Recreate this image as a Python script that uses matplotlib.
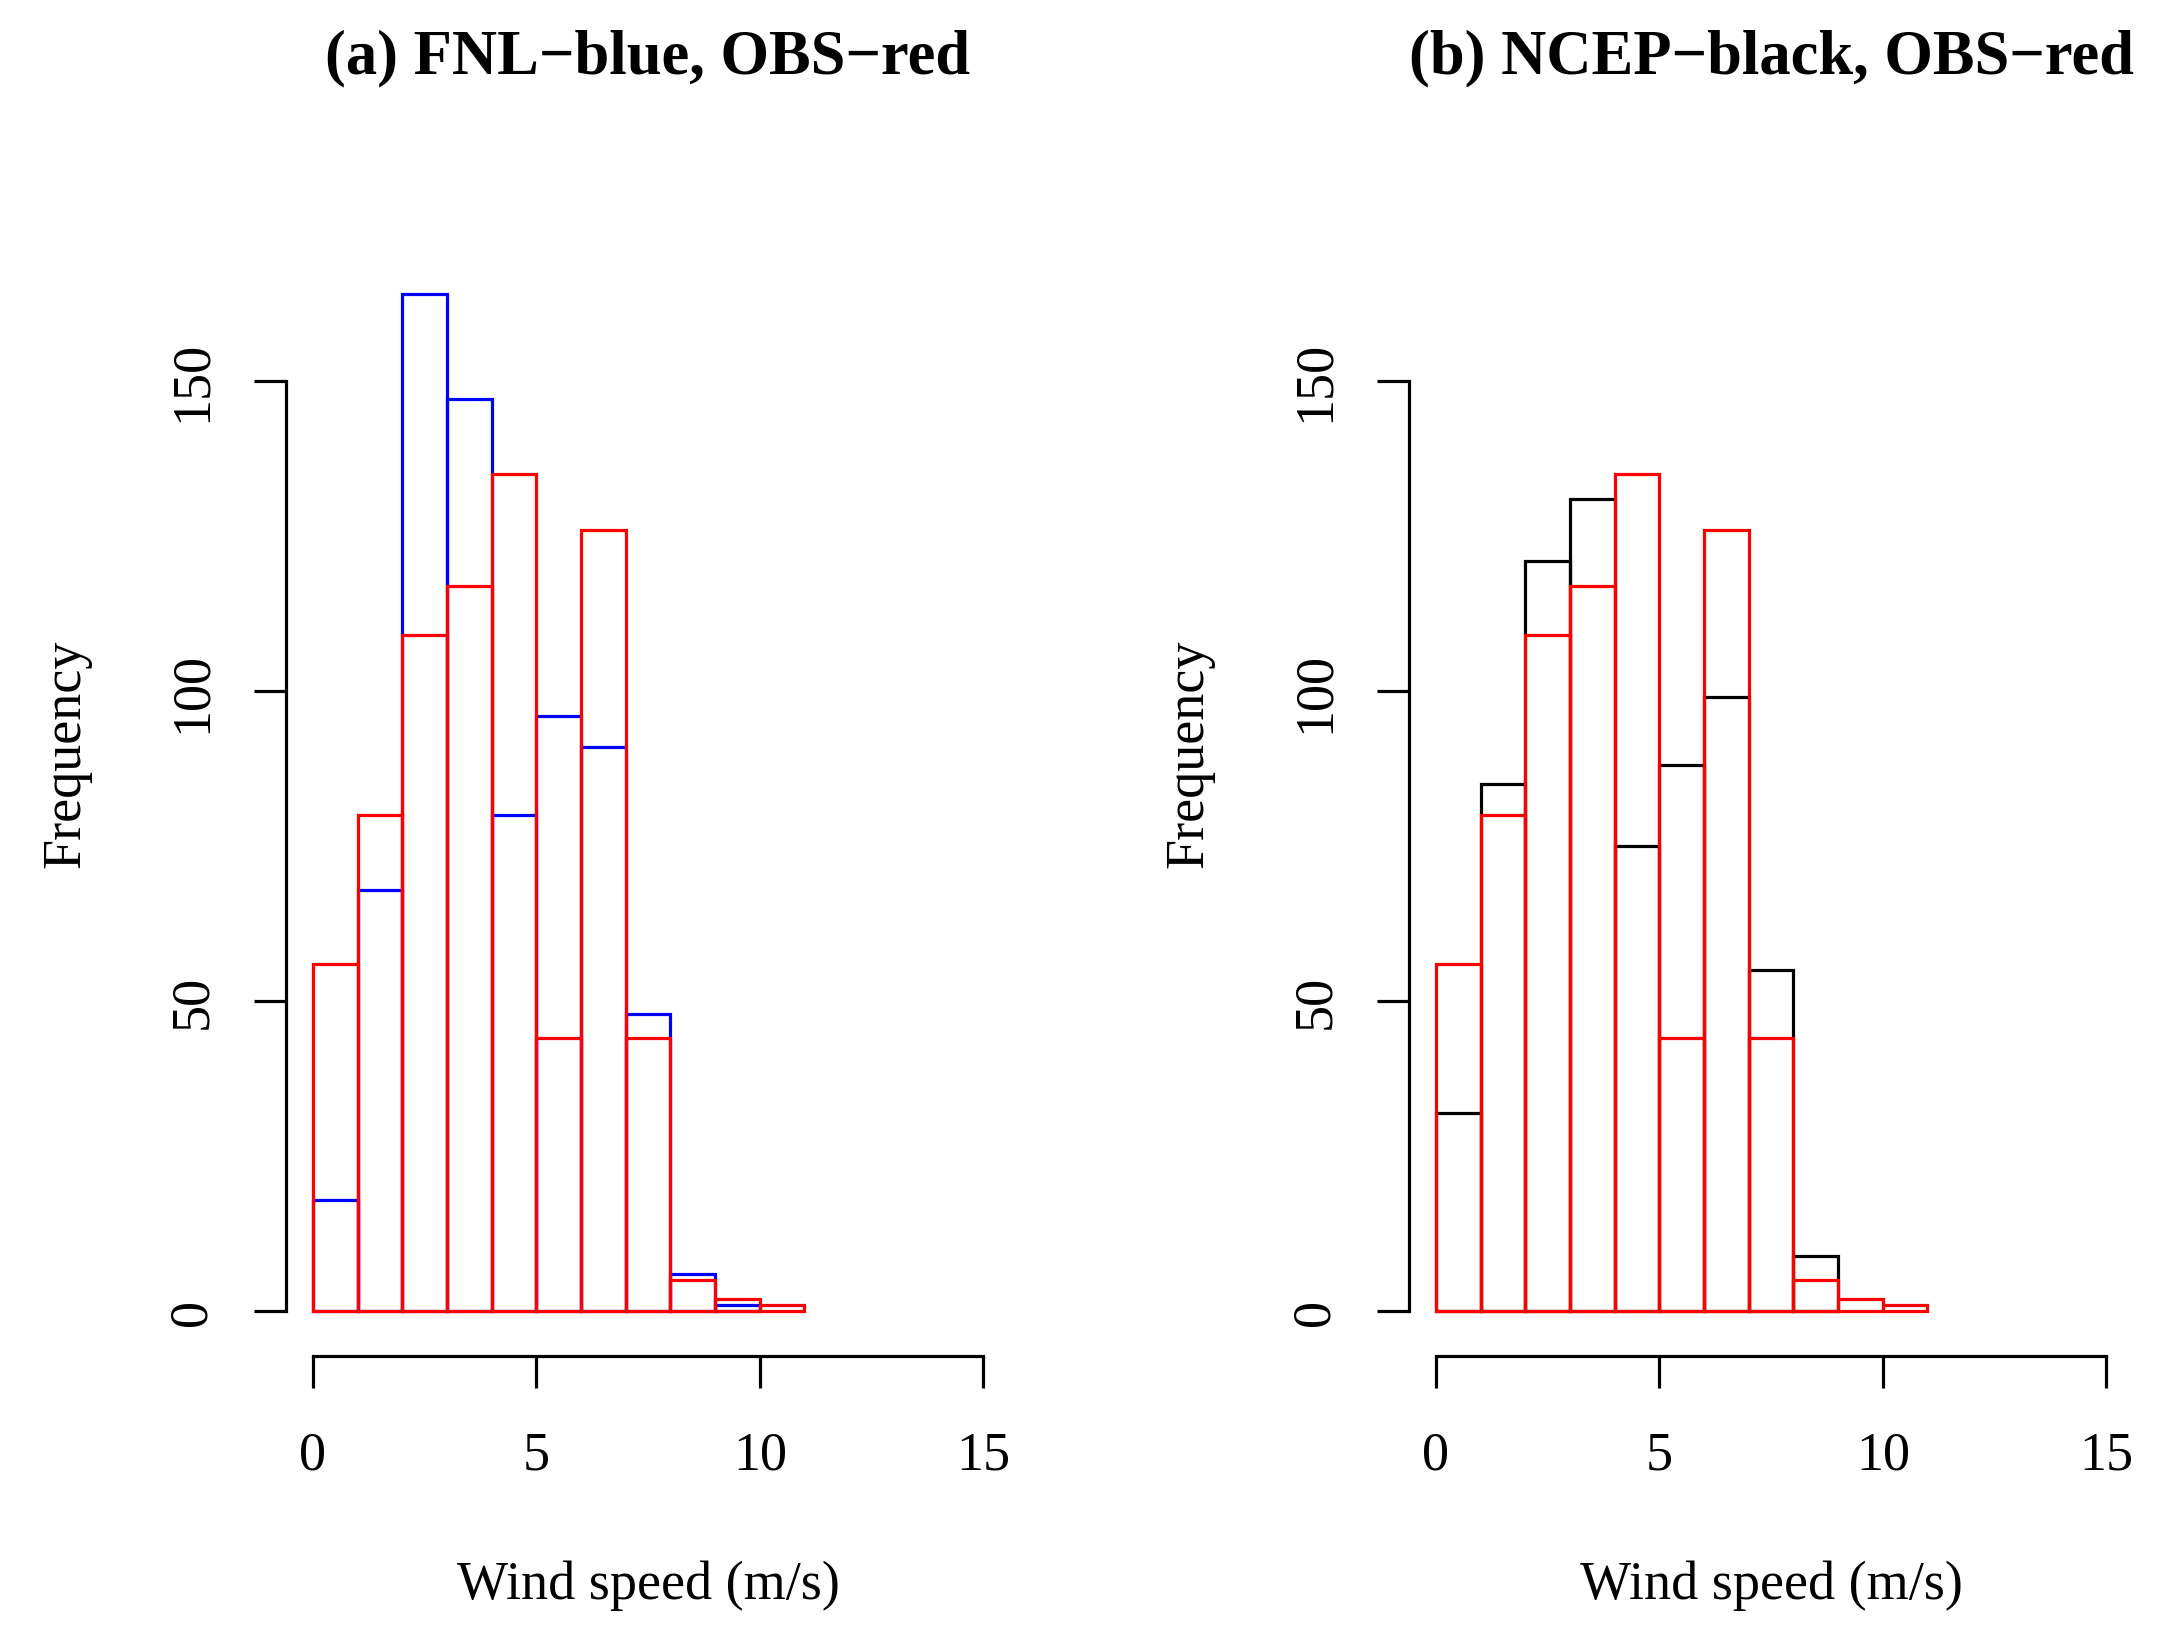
# -*- coding: utf-8 -*-
# Wind speed histograms: FNL / NCEP vs OBS (R-style base graphics look)
import matplotlib
matplotlib.use('Agg')
import matplotlib.pyplot as plt
import numpy

plt.rcParams['font.family'] = ['Liberation Serif', 'DejaVu Serif']

## counts per 1 m/s bin
breaks_obs  = numpy.arange(0, 12)   # 0..11
breaks_fnl  = numpy.arange(0, 11)   # 0..10
breaks_ncep = numpy.arange(0, 10)   # 0..9

obs_counts  = [56, 80, 109, 117, 135, 44, 126, 44, 5, 2, 1]
fnl_counts  = [18, 68, 164, 147, 80, 96, 91, 48, 6, 1]
ncep_counts = [32, 85, 121, 131, 75, 88, 99, 55, 9]

panels = [
    ('(a) FNL\u2212blue, OBS\u2212red', fnl_counts, breaks_fnl, '#0000ff'),
    ('(b) NCEP\u2212black, OBS\u2212red', ncep_counts, breaks_ncep, '#000000'),
]

xticks = [0, 5, 10, 15]
yticks = [0, 50, 100, 150]

fig = plt.figure(figsize=(21.64, 16.33), dpi=100)

lefts = [286 / 2164, 1409 / 2164]
for (title, counts, breaks, colour), left in zip(panels, lefts):
    axis = fig.add_axes([left, 0.169, 0.3346, 0.7385])

    ## model first, obs on top
    axis.bar(breaks[:-1], counts, width=numpy.diff(breaks), align='edge',
             fill=False, edgecolor=colour, linewidth=2.3)
    axis.bar(breaks_obs[:-1], obs_counts, width=numpy.diff(breaks_obs), align='edge',
             fill=False, edgecolor='#ff0000', linewidth=2.3)

    axis.set_xlim(-0.6, 15.6)
    axis.set_ylim(-7.2, 187.2)

    for side in ['top', 'right']:
        axis.spines[side].set_visible(False)
    axis.spines['left'].set_bounds(0, 150)
    axis.spines['bottom'].set_bounds(0, 15)
    for side in ['left', 'bottom']:
        axis.spines[side].set_linewidth(2.3)

    axis.set_xticks(xticks)
    axis.set_xticklabels([str(t) for t in xticks])
    axis.set_yticks(yticks)
    axis.set_yticklabels([str(t) for t in yticks], rotation=90, va='center')
    axis.tick_params(axis='both', direction='out', length=23, width=2.3,
                     labelsize=39)
    axis.tick_params(axis='x', pad=30)
    axis.tick_params(axis='y', pad=26)

    axis.set_xlabel('Wind speed (m/s)', fontsize=39)
    axis.set_ylabel('Frequency', fontsize=39)
    axis.xaxis.label.set_va('center')
    axis.yaxis.label.set_va('center')
    axis.xaxis.set_label_coords(0.5, -0.19)
    axis.yaxis.set_label_coords(-0.304, 0.5)

    axis.text(0.5, 1 + (151 - 58) / 1206, title, transform=axis.transAxes,
              ha='center', va='center', fontsize=45, fontweight='bold')

fig.savefig('out.png', dpi=100)
print('Done plotting')
